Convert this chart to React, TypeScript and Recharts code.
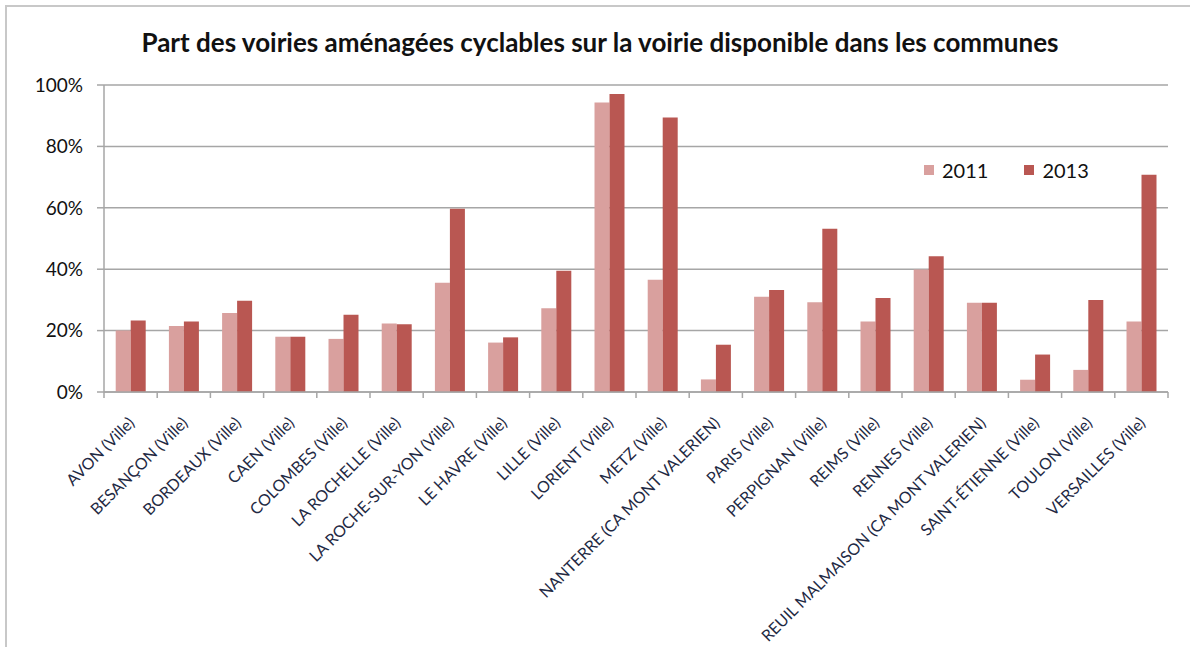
import React from 'react';
import { BarChart, Bar, XAxis, YAxis, CartesianGrid, Legend } from 'recharts';

const communes = [
  'AVON (Ville)',
  'BESANÇON (Ville)',
  'BORDEAUX (Ville)',
  'CAEN (Ville)',
  'COLOMBES (Ville)',
  'LA ROCHELLE (Ville)',
  'LA ROCHE-SUR-YON (Ville)',
  'LE HAVRE (Ville)',
  'LILLE (Ville)',
  'LORIENT (Ville)',
  'METZ (Ville)',
  'NANTERRE (CA MONT VALERIEN)',
  'PARIS (Ville)',
  'PERPIGNAN (Ville)',
  'REIMS (Ville)',
  'RENNES (Ville)',
  'REUIL MALMAISON (CA MONT VALERIEN)',
  'SAINT-ÉTIENNE (Ville)',
  'TOULON (Ville)',
  'VERSAILLES (Ville)',
];

const part2011 = [0.2, 0.215, 0.257, 0.18, 0.173, 0.223, 0.356, 0.161, 0.273, 0.943, 0.366, 0.041, 0.31, 0.292, 0.23, 0.399, 0.291, 0.04, 0.072, 0.23];
const part2013 = [0.233, 0.23, 0.297, 0.18, 0.252, 0.221, 0.597, 0.178, 0.395, 0.971, 0.894, 0.154, 0.332, 0.532, 0.306, 0.442, 0.291, 0.122, 0.3, 0.708];

const yTicks = [0, 0.2, 0.4, 0.6, 0.8, 1];

const COLOR_2011 = '#d9a09e';
const COLOR_2013 = '#b95752';
const GRID = '#a6a6a6';
const FONT = 'Lato, "Open Sans", sans-serif';

const data = communes.map((name, i) => ({ name, y2011: part2011[i], y2013: part2013[i] }));

const CHART_W = 1190;
const CHART_H = 647;
const X_AXIS_H = 40;
const margin = { top: 85, right: 22, bottom: 255 - X_AXIS_H, left: 44 };
const Y_AXIS_W = 60;
const band = (CHART_W - margin.left - Y_AXIS_W - margin.right) / communes.length;

const CategoryTick = (props: any) => {
  const { x, y, payload, index } = props;
  const isLast = index === communes.length - 1;
  const tx = x + 5;
  const ty = y + 24;
  return (
    <g>
      <line x1={x - band / 2} y1={y - 8} x2={x - band / 2} y2={y - 2} stroke={GRID} strokeWidth={1.5} />
      {isLast && (
        <line x1={x + band / 2} y1={y - 8} x2={x + band / 2} y2={y - 2} stroke={GRID} strokeWidth={1.5} />
      )}
      <text
        x={tx}
        y={ty}
        textAnchor="end"
        transform={`rotate(-45, ${tx}, ${ty})`}
        fontSize={16}
        fontFamily={FONT}
        fill="#1f2a44"
      >
        {payload.value}
      </text>
    </g>
  );
};

const renderLegend = () => {
  const items = [
    { label: '2011', color: COLOR_2011 },
    { label: '2013', color: COLOR_2013 },
  ];
  return (
    <div style={{ display: 'flex', gap: 36, fontFamily: FONT, fontSize: 20, color: '#111' }}>
      {items.map((item) => (
        <div key={item.label} style={{ display: 'flex', alignItems: 'center' }}>
          <div style={{ width: 10, height: 10, backgroundColor: item.color, marginRight: 8 }} />
          <span>{item.label}</span>
        </div>
      ))}
    </div>
  );
};

const App: React.FC = () => {
  return (
    <div style={{ position: 'fixed', inset: 0, overflow: 'hidden', background: '#fff' }}>
      <div
        style={{
          position: 'absolute',
          left: 5,
          top: 5,
          width: 1300,
          height: 800,
          borderTop: '2px solid #c8c8c8',
          borderLeft: '2px solid #c8c8c8',
        }}
      />
      <div
        style={{
          position: 'absolute',
          left: 5,
          top: 27,
          width: CHART_W,
          textAlign: 'center',
          fontFamily: FONT,
          fontWeight: 700,
          fontSize: 26,
          lineHeight: 1.2,
          color: '#111',
        }}
      >
        Part des voiries aménagées cyclables sur la voirie disponible dans les communes
      </div>
      <div style={{ position: 'absolute', left: 0, top: 0 }}>
        <BarChart
          width={CHART_W}
          height={CHART_H}
          data={data}
          margin={margin}
          barCategoryGap="22%"
          barGap={0}
        >
          <CartesianGrid vertical={false} stroke={GRID} strokeWidth={1.5} />
          <XAxis
            dataKey="name"
            interval={0}
            tickLine={false}
            axisLine={{ stroke: GRID, strokeWidth: 1.5 }}
            tick={<CategoryTick />}
            height={X_AXIS_H}
          />
          <YAxis
            width={Y_AXIS_W}
            domain={[0, 1]}
            ticks={yTicks}
            tickFormatter={(v: number) => `${Math.round(v * 100)}%`}
            axisLine={{ stroke: GRID, strokeWidth: 1.5 }}
            tickLine={{ stroke: GRID, strokeWidth: 1.5 }}
            tickSize={7}
            tickMargin={14}
            tick={{ fontSize: 19, fontFamily: FONT, fill: '#111' }}
          />
          <Legend
            content={renderLegend}
            layout="horizontal"
            verticalAlign="middle"
            align="center"
            wrapperStyle={{ position: 'absolute', left: 924, top: 158, width: 220 }}
          />
          <Bar dataKey="y2011" name="2011" fill={COLOR_2011} isAnimationActive={false} />
          <Bar dataKey="y2013" name="2013" fill={COLOR_2013} isAnimationActive={false} />
        </BarChart>
      </div>
    </div>
  );
};

export default App;
